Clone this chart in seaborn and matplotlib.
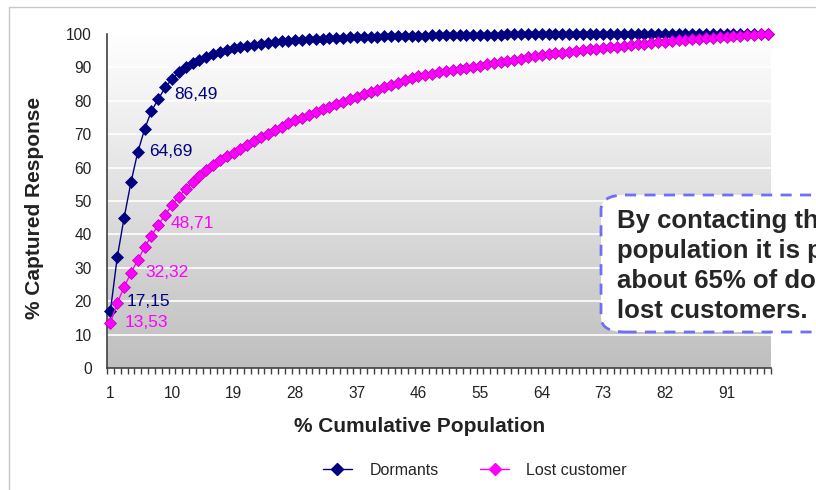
import numpy as np
import matplotlib.pyplot as plt
import matplotlib.patches as mpatches
from matplotlib.colors import LinearSegmentedColormap
from matplotlib.lines import Line2D
import pandas as pd
import seaborn as sns

# Cumulative population percentiles (categorical axis)
population = list(range(1, 98))

dormants = [
    17.15, 33.2, 45.0, 55.6, 64.69, 71.5, 77.0, 80.5, 84.0, 86.49,
    88.5, 90.0, 91.3, 92.3, 93.2, 94.0, 94.6, 95.2, 95.7, 96.1,
    96.5, 96.8, 97.1, 97.4, 97.6, 97.8, 98.0, 98.2, 98.3, 98.4,
    98.5, 98.6, 98.7, 98.8, 98.9, 99.0, 99.0, 99.1, 99.2, 99.2,
    99.3, 99.3, 99.4, 99.4, 99.5, 99.5, 99.5, 99.6, 99.6, 99.6,
    99.7, 99.7, 99.7, 99.7, 99.8, 99.8, 99.8, 99.8, 99.9, 99.9,
    99.9, 99.9, 99.9, 99.9, 99.9, 99.9, 99.9, 99.9, 99.9, 100.0,
    100.0, 100.0, 100.0, 100.0, 100.0, 100.0, 100.0, 100.0, 100.0, 100.0,
    100.0, 100.0, 100.0, 100.0, 100.0, 100.0, 100.0, 100.0, 100.0, 100.0,
    100.0, 100.0, 100.0, 100.0, 100.0, 100.0, 100.0,
]

lost_customer = [
    13.53, 19.5, 24.2, 28.5, 32.32, 36.2, 39.6, 42.8, 45.9, 48.71,
    51.3, 53.6, 55.7, 57.6, 59.3, 60.8, 62.2, 63.4, 64.5, 65.7,
    66.9, 68.0, 69.1, 70.2, 71.2, 72.3, 73.3, 74.2, 75.0, 75.8,
    76.6, 77.4, 78.2, 79.0, 79.7, 80.4, 81.1, 81.9, 82.6, 83.3,
    84.0, 84.7, 85.4, 86.1, 86.8, 87.5, 87.8, 88.1, 88.5, 88.8,
    89.2, 89.5, 89.9, 90.2, 90.5, 90.9, 91.2, 91.6, 91.9, 92.3,
    92.6, 93.0, 93.3, 93.7, 93.9, 94.2, 94.4, 94.7, 94.9, 95.2,
    95.4, 95.6, 95.8, 96.0, 96.2, 96.4, 96.6, 96.9, 97.1, 97.3,
    97.5, 97.7, 97.9, 98.1, 98.3, 98.4, 98.6, 98.8, 98.9, 99.1,
    99.2, 99.4, 99.5, 99.7, 99.8, 99.9, 100.0,
]

# Points that carry a data label, with the label offset in pixels (dx, dy)
label_offsets = {
    'Dormants': {1: (16, 9), 5: (11, 0), 10: (2, -15)},
    'Lost customer': {1: (14, 0), 5: (8, -12), 10: (-1, -18)},
}
x_ticks = [1, 10, 19, 28, 37, 46, 55, 64, 73, 82, 91]

colours = {'Dormants': '#000080', 'Lost customer': '#ff00ff'}

df = pd.DataFrame({'population': population * 2,
                   'response': dormants + lost_customer,
                   'series': ['Dormants'] * len(population) + ['Lost customer'] * len(population)})

sns.set_theme(style='white')
plt.rcParams['font.family'] = ['Liberation Sans', 'DejaVu Sans']

fig = plt.figure(figsize=(8.16, 4.9), dpi=100)
ax = fig.add_axes([107 / 816, 122 / 490, 664 / 816, 334 / 490])

# Grey-to-white gradient plot area
gradient = np.linspace(0, 1, 256).reshape(-1, 1)
ax.imshow(gradient, cmap=LinearSegmentedColormap.from_list('bg', ['#bfbfbf', '#ffffff']),
          extent=[0, 1, 0, 1], transform=ax.transAxes, aspect='auto', origin='lower', zorder=0)

for y in range(10, 101, 10):
    ax.axhline(y, color='white', linewidth=1.2, zorder=1)

for name in ['Dormants', 'Lost customer']:
    sub = df[df['series'] == name]
    edge = '#000080' if name == 'Dormants' else '#b000b0'
    sns.lineplot(data=sub, x='population', y='response', color=colours[name],
                 marker='D', markersize=6, markeredgecolor=edge, markeredgewidth=0.5,
                 linewidth=1, ax=ax, clip_on=False, zorder=3, legend=False)

# Data labels
for name, values in [('Dormants', dormants), ('Lost customer', lost_customer)]:
    for p, (dx, dy) in label_offsets[name].items():
        v = values[p - 1]
        ax.annotate(f'{v:.2f}'.replace('.', ','), (p, v), xytext=(dx, dy), textcoords='offset pixels',
                    color=colours[name], fontsize=12.5, va='center', ha='left', zorder=4)

ax.set_xlim(0.5, len(population) + 0.5)
ax.set_ylim(0, 100)
ax.set_yticks(range(0, 101, 10))
ax.set_xticks(x_ticks)
ax.set_xticks(np.arange(0.5, len(population) + 1), minor=True)
ax.tick_params(axis='both', labelsize=11.2, colors='#222222', direction='out')
ax.tick_params(axis='y', length=5, width=1, color='#404040', pad=6)
ax.tick_params(axis='x', which='major', length=0, pad=13)
ax.tick_params(axis='x', which='minor', length=4, width=1, color='#404040', bottom=True)
ax.set_xlabel('% Cumulative Population', fontsize=15, fontweight='bold', color='#222222')
ax.set_ylabel('% Captured Response', fontsize=15, fontweight='bold', color='#222222')
ax.xaxis.set_label_coords(0.471, -49 / 334)
ax.yaxis.set_label_coords(-63 / 664, 0.479)

for side in ['top', 'right']:
    ax.spines[side].set_visible(False)
for side in ['left', 'bottom']:
    ax.spines[side].set_color('#404040')
    ax.spines[side].set_linewidth(1.2)

# Legend below the chart
handles = [Line2D([0], [0], color=colours['Dormants'], marker='D', markersize=6, linewidth=1),
           Line2D([0], [0], color=colours['Lost customer'], marker='D', markersize=6, linewidth=1)]
fig.legend(handles, ['Dormants', 'Lost customer'], loc='center', bbox_to_anchor=(475 / 816, 20 / 490),
           ncol=2, frameon=False, fontsize=11.5, handlelength=1.8, handletextpad=1.1, columnspacing=2.6)

# Callout box, running off the right edge
box = mpatches.FancyBboxPatch((601 / 816, 158 / 490), 260 / 816, 137 / 490,
                              boxstyle='round,pad=0,rounding_size=0.03', transform=fig.transFigure,
                              facecolor='white', edgecolor='#6f6ff5', linewidth=2, linestyle=(0, (4, 3)),
                              zorder=5)
fig.patches.append(box)
fig.text(617 / 816, (490 - 266) / 490,
         'By contacting the top 10% of the\npopulation it is possible to capture\n'
         'about 65% of dormants and 49% of\nlost customers.',
         fontsize=18.5, fontweight='bold', color='#262626', va='center', ha='left',
         linespacing=1.33, zorder=6)

# Slide frame lines
fig.add_artist(Line2D([9 / 816, 9 / 816], [0, 483 / 490], transform=fig.transFigure, color='#c8c8c8', linewidth=1))
fig.add_artist(Line2D([9 / 816, 1], [483 / 490, 483 / 490], transform=fig.transFigure, color='#c8c8c8', linewidth=1))

fig.savefig('out.png', dpi=100)
